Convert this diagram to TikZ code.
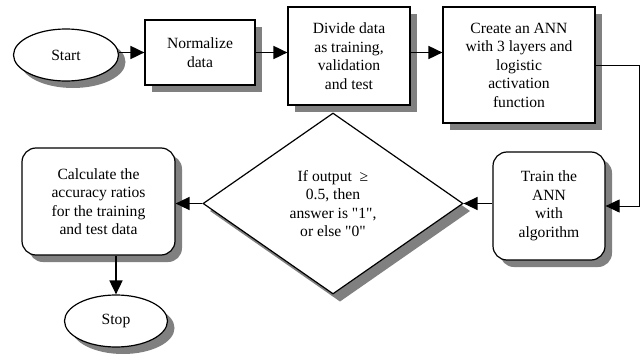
\documentclass[tikz,border=0pt]{standalone}
\usepackage{fontspec}
\setmainfont{Liberation Serif}
\usetikzlibrary{shapes.geometric,arrows.meta}
\definecolor{shadowgray}{RGB}{128,128,128}
\begin{document}
\begin{tikzpicture}[x=1pt,y=-1pt,
 font=\fontsize{15.6}{18.5}\selectfont,
 box/.style={draw,line width=1.2pt,fill=white,align=center,inner sep=0pt},
 rbox/.style={box,rounded corners=14pt},
 oval/.style={ellipse,draw,line width=1.2pt,fill=white,inner sep=0pt},
 tip/.style={-{Triangle[length=14pt,width=13pt]}},
 arr/.style={tip,line width=1.8pt},
]
\fill[white] (0,0) rectangle (643,356);
% shadows
\fill[shadowgray] (73,62) ellipse [x radius=52.5, y radius=26];
\fill[shadowgray] (152,27) rectangle (262,92);
\fill[shadowgray] (295,14) rectangle (417,112);
\fill[shadowgray] (450,14) rectangle (602,130);
\fill[shadowgray,rounded corners=14pt] (500,159) rectangle (612,267);
\fill[shadowgray] (340,120) -- (470,211) -- (340,301.5) -- (210,211) -- cycle;
\fill[shadowgray,rounded corners=14pt] (29,155) rectangle (182,262);
\fill[shadowgray] (123,328) ellipse [x radius=51.5, y radius=26];
% nodes
\node[oval,minimum width=105pt,minimum height=52pt] (start) at (66,55) {Start};
\node[box,minimum width=110pt,minimum height=65pt] (norm) at (200,52.5) {Normalize\\data};
\node[box,minimum width=122pt,minimum height=98pt] (div) at (349,56) {Divide data\\as training,\\validation\\and test};
\node[box,minimum width=152pt,minimum height=116pt] (ann) at (519,65) {Create an ANN\\with 3 layers and\\logistic\\activation\\function};
\node[rbox,minimum width=112pt,minimum height=108pt] (train) at (549,206) {Train the\\ANN\\with\\algorithm};
\node[diamond,draw,line width=1.2pt,fill=white,align=center,inner sep=0pt,aspect=1.4,minimum width=260pt,minimum height=181pt] (dec) at (333,203.5) {If output\ \ ≥\\0.5, then\\answer is \textquotedbl1\textquotedbl,\\or else \textquotedbl0\textquotedbl};
\node[rbox,minimum width=153pt,minimum height=107pt] (calc) at (98.5,201.5) {Calculate the\\accuracy ratios\\for the training\\and test data};
\node[oval,minimum width=103pt,minimum height=52pt] (stop) at (116,321) {Stop};

\draw[arr] (start.east |- norm.west) -- (norm.west);
\draw[arr] (norm.east) -- (norm.east -| div.west);
\draw[arr] (div.east |- norm.east) -- (div.east |- norm.east -| ann.west);
\draw[tip,line width=1pt] (ann.east) -- ++(44,0) |- (train.east);
\draw[tip,line width=1.3pt] (train.west |- dec.east) -- (dec.east);
\draw[arr,line width=1.5pt] (dec.west) -- (dec.west -| calc.east);
\draw[arr] (stop.north |- calc.south) -- (stop.north);
\end{tikzpicture}
\end{document}
